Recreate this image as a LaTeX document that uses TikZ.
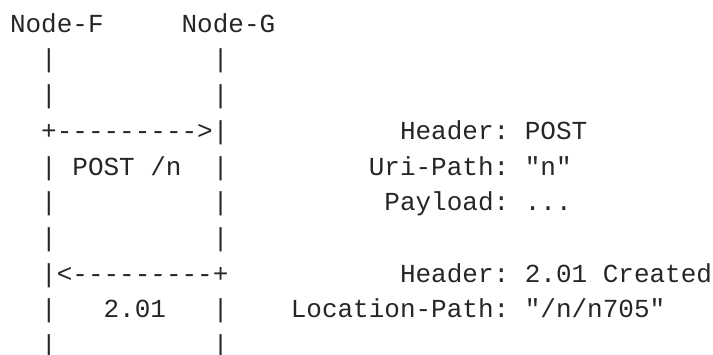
\documentclass[tikz,border=0pt]{standalone}
\usepackage{fontspec}
\setmonofont{Liberation Mono}
\tikzset{
  txt/.style={anchor=base west, inner sep=0pt, outer sep=0pt,
    font=\ttfamily\fontsize{26}{26}\selectfont, text=black!85}
}
\newcommand\Tx[4]{\node[txt] (#1) at ({10+#2*15.6},{-32.3-#3*35.7}) {#4};}
\begin{document}
\begin{tikzpicture}[x=1pt,y=1pt]
\useasboundingbox (0,0) rectangle (713,-355);
\Tx{nf}{0}{0}{Node-F}
\Tx{ng}{11}{0}{Node-G}
\foreach \r in {1,2,4,5,6,8,9}{
  \Tx{lf\r}{2}{\r}{|}
  \Tx{lg\r}{13}{\r}{|}
}
\Tx{req}{2}{3}{+--------->|}
\Tx{hpost}{25}{3}{Header: POST}
\Tx{post}{4}{4}{POST /n}
\Tx{uri}{23}{4}{Uri-Path: "n"}
\Tx{pay}{24}{5}{Payload: ...}
\Tx{resp}{2}{7}{|<---------+}
\Tx{hcr}{25}{7}{Header: 2.01 Created}
\Tx{code}{6}{8}{2.01}
\Tx{loc}{18}{8}{Location-Path: "/n/n705"}
\end{tikzpicture}
\end{document}
